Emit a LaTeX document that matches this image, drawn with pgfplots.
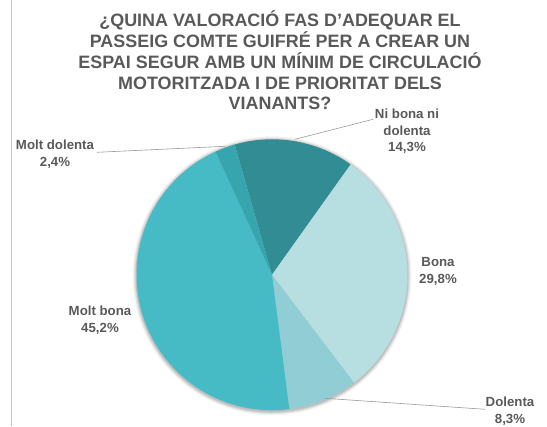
\documentclass[border=0pt]{standalone}
\usepackage{pgfplots}
\pgfplotsset{compat=1.18}
\usepackage{fontspec}
\setmainfont{Liberation Sans}
\definecolor{txt}{HTML}{595959}
\definecolor{cNi}{HTML}{318C93}
\definecolor{cBona}{HTML}{B7DFE2}
\definecolor{cDol}{HTML}{90CDD5}
\definecolor{cMB}{HTML}{46BBC6}
\definecolor{cMD}{HTML}{37A5AE}
\def\cx{272}
\def\cy{151.5}
\def\rr{135.5}
\def\cur{106}
\newcommand{\slice}[2]{%
  \pgfmathsetmacro\endang{\cur-#1*3.6}%
  \edef\tmp{\noexpand\addplot[fill=#2, draw=none, domain=\endang:\cur, samples=80, variable=\noexpand\t] ({\cx+\rr*cos(\noexpand\t)},{\cy+\rr*sin(\noexpand\t)}) -- (axis cs:\cx,\cy) -- cycle;}%
  \tmp
  \xdef\cur{\endang}%
}
\begin{document}
\begin{tikzpicture}
\begin{axis}[scale only axis, width=547bp, height=426bp,
  xmin=0, xmax=547, ymin=0, ymax=426, hide axis, clip=false]
\addplot[draw=none] coordinates {(0,0) (547,426)};
\addplot[color=black!22, line width=0.6pt] coordinates {(11,0) (11,426)};
% soft shadow
\foreach \k/\o in {4/0.04,3/0.06,2/0.08,1/0.1}{
  \edef\tmp{\noexpand\addplot[fill=black, fill opacity=\o, draw=none, domain=0:360, samples=120, variable=\noexpand\t] ({\cx+(\rr+\k)*cos(\noexpand\t)},{\cy-1+(\rr+\k)*sin(\noexpand\t)}) -- cycle;}\tmp
}
\slice{14.3}{cNi}
\slice{29.8}{cBona}
\slice{8.3}{cDol}
\slice{45.2}{cMB}
\slice{2.4}{cMD}
% leader lines
\addplot[color=black!40, line width=0.6pt] coordinates {(97,274) (225,280)};
\addplot[color=black!40, line width=0.6pt] coordinates {(373,307) (295,287)};
\addplot[color=black!40, line width=0.6pt] coordinates {(325,28) (485,17)};
% labels
\tikzset{lab/.style={align=center, text=txt, font=\bfseries\fontsize{13.3}{16.5}\selectfont, inner sep=0pt}}
\node[lab] at (axis cs:55,272) {Molt dolenta\\2,4\%};
\node[lab] at (axis cs:407,295) {Ni bona ni\\dolenta\\14,3\%};
\node[lab] at (axis cs:438,155) {Bona\\29,8\%};
\node[lab] at (axis cs:510,15) {Dolenta\\8,3\%};
\node[lab] at (axis cs:100,106) {Molt bona\\45,2\%};
\node[align=center, text=txt, font=\bfseries\fontsize{18}{21}\selectfont, inner sep=0pt] at (axis cs:280,366)
 {¿QUINA VALORACIÓ FAS D\symbol{39}ADEQUAR EL\\PASSEIG COMTE GUIFRÉ PER A CREAR UN\\ESPAI SEGUR AMB UN MÍNIM DE CIRCULACIÓ\\MOTORITZADA I DE PRIORITAT DELS\\VIANANTS?};
\end{axis}
\end{tikzpicture}
\end{document}
